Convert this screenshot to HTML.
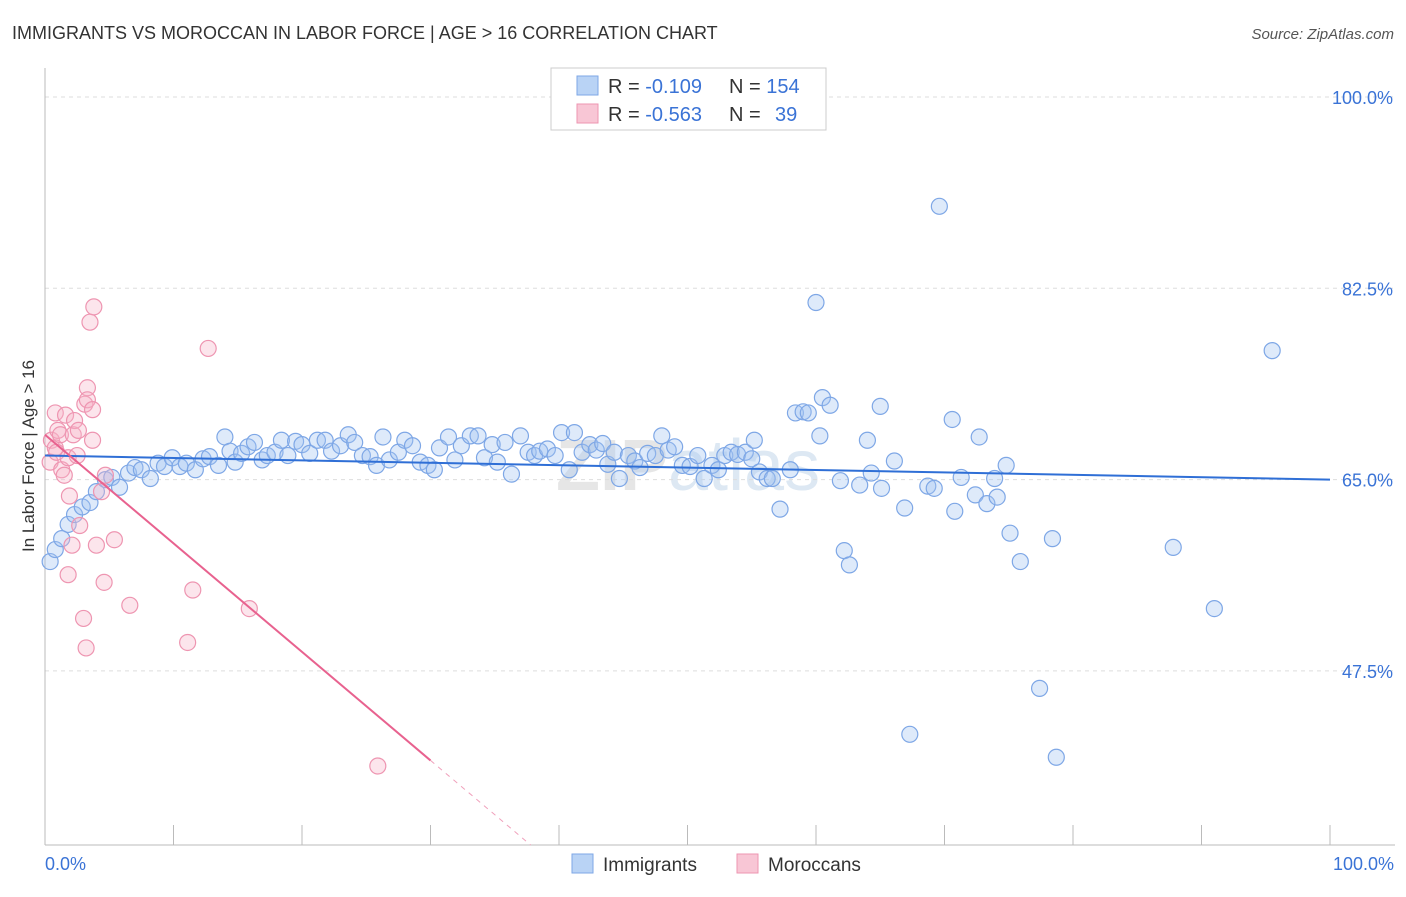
<!DOCTYPE html>
<html><head><meta charset="utf-8"><style>
body{margin:0;background:#fff;font-family:"Liberation Sans",sans-serif;}
svg text{font-family:"Liberation Sans",sans-serif;}
</style></head><body>
<svg id="chart" width="1406" height="892" xmlns="http://www.w3.org/2000/svg">
<text x="12" y="39" font-size="18" fill="#333">IMMIGRANTS VS MOROCCAN IN LABOR FORCE | AGE &gt; 16 CORRELATION CHART</text>
<text x="1394" y="39" font-size="15" fill="#555" font-style="italic" text-anchor="end">Source: ZipAtlas.com</text>
<text x="556" y="490" font-size="72" font-weight="bold" fill="#e6e6e6">ZIP<tspan font-weight="normal" fill="#dde8f3">atlas</tspan></text>
<g id="grid"></g>
<g id="axes"></g>
<g id="marks"></g>
<text transform="translate(34,456) rotate(-90)" font-size="17" fill="#333" text-anchor="middle">In Labor Force | Age &gt; 16</text>
<text x="45" y="870" font-size="18" fill="#3a73d6">0.0%</text>
<text x="1394" y="870" font-size="18" fill="#3a73d6" text-anchor="end">100.0%</text>
<g>
<rect x="551" y="68" width="275" height="62" fill="#fff" stroke="#ccc"/>
<rect x="577" y="76" width="21" height="19" fill="#b9d3f5" stroke="#7ea7e6"/>
<rect x="577" y="104" width="21" height="19" fill="#f8c6d5" stroke="#ee95b1"/>
<text x="608" y="93" font-size="20" fill="#333">R = <tspan fill="#3a73d6">-0.109</tspan><tspan x="729">N = </tspan><tspan fill="#3a73d6">154</tspan></text>
<text x="608" y="121" font-size="20" fill="#333">R = <tspan fill="#3a73d6">-0.563</tspan><tspan x="729">N = </tspan><tspan x="775" fill="#3a73d6">39</tspan></text>
</g>
<g>
<rect x="572" y="854" width="21" height="19" fill="#b9d3f5" stroke="#7ea7e6"/>
<text x="603" y="871" font-size="19" fill="#333">Immigrants</text>
<rect x="737" y="854" width="21" height="19" fill="#f8c6d5" stroke="#ee95b1"/>
<text x="768" y="871" font-size="19" fill="#333">Moroccans</text>
</g>
</svg>
<script>
const yTicks=[100,82.5,65,47.5];
const yTickLabels=["100.0%","82.5%","65.0%","47.5%"];
const xTicks=[0,10,20,30,40,50,60,70,80,90,100];
const blueX=[0.4,0.8,1.3,1.8,2.3,2.9,3.5,4.0,4.7,5.2,5.8,6.5,7.0,7.5,8.2,8.8,9.3,9.9,10.5,11.0,11.7,12.3,12.8,13.5,14.0,14.4,14.8,15.3,15.8,16.3,16.9,17.3,17.9,18.4,18.9,19.5,20.0,20.6,21.2,21.8,22.3,23.0,23.6,24.1,24.7,25.3,25.8,26.3,26.8,27.5,28.0,28.6,29.2,29.8,30.3,30.7,31.4,31.9,32.4,33.1,33.7,34.2,34.8,35.2,35.8,36.3,37.0,37.6,38.1,38.5,39.1,39.7,40.2,40.8,41.2,41.8,42.4,42.9,43.4,43.8,44.3,44.7,45.4,45.9,46.3,46.9,47.5,48.0,48.5,49.0,49.6,50.2,50.8,51.3,51.9,52.4,52.9,53.4,53.9,54.5,55.0,55.2,55.6,56.2,56.6,57.2,58.0,58.4,59.0,59.4,60.0,60.3,60.5,61.1,61.9,62.2,62.6,63.4,64.0,64.3,65.0,65.1,66.1,66.9,67.3,68.7,69.2,69.6,70.6,70.8,71.3,72.4,72.7,73.3,73.9,74.1,74.8,75.1,75.9,77.4,78.4,78.7,87.8,91.0,95.5];
const blueY=[57.5,58.6,59.6,60.9,61.8,62.5,62.9,63.9,65.0,65.2,64.3,65.6,66.1,65.9,65.1,66.5,66.2,67.0,66.2,66.5,65.9,66.9,67.1,66.3,68.9,67.6,66.6,67.4,68.0,68.4,66.8,67.2,67.5,68.6,67.2,68.5,68.2,67.4,68.6,68.6,67.6,68.1,69.1,68.4,67.2,67.1,66.3,68.9,66.8,67.5,68.6,68.1,66.6,66.3,65.9,67.9,68.9,66.8,68.1,69.0,69.0,67.0,68.2,66.6,68.4,65.5,69.0,67.5,67.2,67.6,67.8,67.2,69.3,65.9,69.3,67.5,68.2,67.7,68.3,66.4,67.5,65.1,67.2,66.7,66.1,67.4,67.2,69.0,67.7,68.0,66.3,66.2,67.2,65.1,66.3,65.9,67.2,67.5,67.3,67.5,66.9,68.6,65.7,65.1,65.1,62.3,65.9,71.1,71.2,71.1,81.2,69.0,72.5,71.8,64.9,58.5,57.2,64.5,68.6,65.6,71.7,64.2,66.7,62.4,41.7,64.4,64.2,90.0,70.5,62.1,65.2,63.6,68.9,62.8,65.1,63.4,66.3,60.1,57.5,45.9,59.6,39.6,58.8,53.2,76.8];
const pinkX=[0.4,0.5,0.8,0.8,0.9,1.0,1.2,1.3,1.5,1.6,1.8,1.8,1.9,2.1,2.2,2.3,2.5,2.6,2.7,3.0,3.1,3.2,3.3,3.3,3.5,3.7,3.8,4.0,4.4,4.6,4.7,5.4,6.6,11.1,11.5,12.7,15.9,25.9,3.7];
const pinkY=[66.6,68.6,67.9,71.1,67.5,69.5,69.1,65.9,65.4,70.9,67.0,56.3,63.5,59.0,69.1,70.4,67.2,69.5,60.8,52.3,71.9,49.6,73.4,72.3,79.4,71.4,80.8,59.0,63.9,55.6,65.4,59.5,53.5,50.1,54.9,77.0,53.2,38.8,68.6];
const blueTrend=[67.2,65.0];
const pinkTrend=[69.1,-0.993];
const NS="http://www.w3.org/2000/svg";
const X0=45,X1=1330,YTOP=97,YPX=191.3/17.5,YBOT=845;
function xs(v){return X0+(X1-X0)*v/100;}
function ys(v){return YTOP+(100-v)*YPX;}
function mk(tag,attrs,parent){const e=document.createElementNS(NS,tag);for(const k in attrs)e.setAttribute(k,attrs[k]);document.getElementById(parent).appendChild(e);return e;}
yTicks.forEach((t,i)=>{
 const g=mk('line',{x1:X0,x2:1395,y1:ys(t),y2:ys(t),stroke:'#ddd','stroke-dasharray':'4,4'},'grid');
 
 
 const l=mk('text',{x:1393,y:ys(t)+7,'font-size':18,fill:'#3a73d6','text-anchor':'end'},'grid');
 l.textContent=yTickLabels[i];
 
 
});
const ax=mk('line',{x1:X0,x2:1395,y1:YBOT,y2:YBOT,stroke:'#bbb'},'axes');


const ay=mk('line',{x1:X0,x2:X0,y1:68,y2:YBOT,stroke:'#bbb'},'axes');


xTicks.forEach(t=>{
 const k=mk('line',{x1:xs(t),x2:xs(t),y1:825,y2:YBOT,stroke:'#bbb'},'axes');
 
 
});
blueX.forEach((x,i)=>{
 const c=mk('circle',{cx:xs(x),cy:ys(blueY[i]),r:8,fill:'rgba(160,195,240,0.35)',stroke:'#7ea7e6','stroke-width':1.2},'marks');
 
 
});
pinkX.forEach((x,i)=>{
 const c=mk('circle',{cx:xs(x),cy:ys(pinkY[i]),r:8,fill:'rgba(245,180,200,0.35)',stroke:'#ee95b1','stroke-width':1.2},'marks');
 
 
});
const bt=mk('line',{x1:xs(0),y1:ys(blueTrend[0]),x2:xs(100),y2:ys(blueTrend[1]),stroke:'#2f6fd6','stroke-width':2},'marks');


function pt(x){return pinkTrend[0]+pinkTrend[1]*x;}
const xEnd=(pinkTrend[0]-(100-(YBOT-YTOP)/YPX))/(-pinkTrend[1]);
const ps=mk('line',{x1:xs(0),y1:ys(pt(0)),x2:xs(30),y2:ys(pt(30)),stroke:'#e8628f','stroke-width':2},'marks');


const pd=mk('line',{x1:xs(30),y1:ys(pt(30)),x2:xs(xEnd),y2:ys(pt(xEnd)),stroke:'#f0a0bb','stroke-width':1,'stroke-dasharray':'5,5'},'marks');


</script>
</body></html>
